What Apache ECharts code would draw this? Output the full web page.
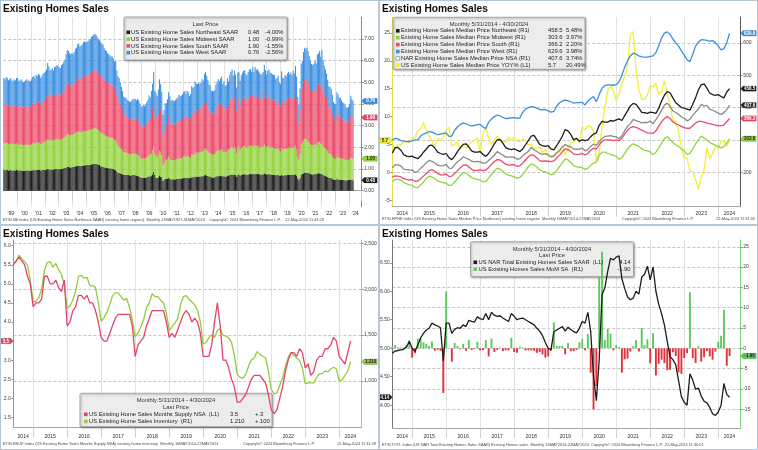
<!DOCTYPE html>
<html><head><meta charset="utf-8">
<script src="https://cdn.jsdelivr.net/npm/echarts@6.0.0/dist/echarts.min.js"></script>
<style>
html,body{margin:0;padding:0;background:#fff;}
#wrap{position:relative;width:758px;height:450px;overflow:hidden;background:#fff;}
.c{position:absolute;width:379px;height:225px;}
.b{position:absolute;width:379px;height:225px;box-sizing:border-box;border:1px solid #b4c6d8;pointer-events:none;}
</style></head><body><div id="wrap">
<div id="c1" class="c" style="left:0;top:0"></div>
<div id="c2" class="c" style="left:379px;top:0"></div>
<div id="c3" class="c" style="left:0;top:225px"></div>
<div id="c4" class="c" style="left:379px;top:225px"></div>
<div class="b" style="left:0;top:0"></div>
<div class="b" style="left:379px;top:0"></div>
<div class="b" style="left:0;top:225px"></div>
<div class="b" style="left:379px;top:225px"></div>
</div>
<script>
// ---------------- DATA ----------------
// Panel 1: regional existing home sales SAAR (millions), monthly Jan 1999 - Apr 2024
const P1_START_YEAR = 1999;
const P1_PAD_MONTHS = 7; // empty months after the last bar (right margin of the plot)
const NE1 = [
.95,.94,.96,.95,.93,.94,.95,.93,.92,.94,.93,.95,
.94,.92,.93,.94,.92,.91,.92,.93,.94,.92,.93,.92,
.93,.94,.95,.93,.95,.95,.96,.95,.93,.95,.96,.96,
.97,.98,1.0,.99,.97,.98,.99,.98,.99,1.0,1.0,.99,
1.0,.99,1.01,1.02,1.04,1.05,1.07,1.1,1.09,1.08,1.07,1.08,
1.1,1.11,1.13,1.13,1.15,1.15,1.14,1.14,1.15,1.16,1.17,1.17,
1.18,1.19,1.2,1.2,1.22,1.22,1.23,1.24,1.23,1.22,1.2,1.18,
1.12,1.12,1.1,1.08,1.07,1.06,1.05,1.04,1.03,1.02,1.02,1.0,
.95,.95,.88,.84,.82,.8,.78,.76,.74,.73,.73,.72,
.72,.71,.7,.71,.72,.72,.71,.7,.69,.67,.63,.6,
.58,.6,.59,.6,.62,.64,.67,.66,.7,.76,.86,.72,
.6,.58,.62,.7,.66,.62,.46,.5,.54,.54,.56,.6,
.55,.53,.53,.53,.52,.53,.54,.55,.56,.55,.56,.57,
.59,.6,.58,.6,.59,.57,.58,.62,.62,.62,.66,.64,
.65,.66,.65,.66,.68,.67,.71,.72,.7,.68,.65,.65,
.62,.61,.61,.62,.65,.67,.69,.67,.69,.7,.66,.67,
.65,.66,.7,.68,.72,.74,.75,.72,.75,.72,.64,.74,
.76,.7,.73,.75,.76,.77,.74,.74,.75,.77,.77,.76,
.78,.76,.78,.77,.78,.77,.76,.75,.75,.76,.8,.77,
.75,.76,.77,.75,.75,.74,.73,.73,.71,.72,.73,.7,
.68,.72,.7,.7,.72,.71,.72,.73,.72,.73,.72,.74,
.72,.76,.7,.57,.5,.58,.75,.78,.8,.84,.83,.84,
.82,.8,.78,.76,.75,.76,.78,.76,.8,.8,.81,.77,
.78,.72,.7,.68,.66,.63,.6,.59,.58,.55,.52,.52,
.5,.54,.53,.51,.51,.5,.49,.49,.48,.47,.48,.49,
.5,.5,.5,.48];
const MW1 = [
1.24,1.23,1.25,1.24,1.22,1.23,1.24,1.22,1.21,1.23,1.22,1.24,
1.22,1.19,1.2,1.21,1.19,1.18,1.19,1.2,1.21,1.19,1.2,1.19,
1.22,1.24,1.25,1.23,1.26,1.25,1.27,1.26,1.23,1.25,1.27,1.28,
1.32,1.34,1.38,1.36,1.33,1.34,1.35,1.33,1.36,1.37,1.38,1.37,
1.36,1.35,1.38,1.39,1.41,1.43,1.47,1.52,1.51,1.49,1.48,1.49,
1.5,1.52,1.55,1.55,1.57,1.58,1.56,1.56,1.57,1.58,1.58,1.58,
1.58,1.59,1.6,1.6,1.62,1.63,1.64,1.65,1.64,1.62,1.6,1.58,
1.55,1.54,1.53,1.5,1.48,1.47,1.45,1.44,1.43,1.42,1.42,1.4,
1.38,1.4,1.3,1.24,1.22,1.18,1.14,1.1,1.04,1.03,1.03,1.01,
1.0,.99,.98,1.0,1.0,1.0,.99,.98,.97,.95,.92,.9,
.88,.9,.89,.9,.93,.96,1.0,.98,1.04,1.1,1.18,1.0,
1.0,.97,1.04,1.15,1.1,1.0,.72,.78,.86,.86,.9,.98,
.93,.89,.89,.89,.88,.9,.91,.92,.95,.93,.94,.95,
1.0,1.01,.98,1.02,1.0,.96,.98,1.06,1.04,1.05,1.11,1.09,
1.1,1.12,1.1,1.11,1.15,1.14,1.21,1.23,1.19,1.15,1.1,1.09,
1.06,1.06,1.05,1.07,1.12,1.16,1.18,1.16,1.19,1.21,1.13,1.16,
1.12,1.13,1.2,1.17,1.24,1.27,1.29,1.23,1.28,1.24,1.1,1.26,
1.28,1.18,1.24,1.27,1.29,1.3,1.26,1.24,1.28,1.31,1.31,1.28,
1.32,1.27,1.32,1.29,1.3,1.28,1.26,1.24,1.25,1.27,1.35,1.29,
1.24,1.28,1.29,1.26,1.25,1.24,1.23,1.23,1.19,1.2,1.23,1.15,
1.12,1.26,1.2,1.2,1.23,1.22,1.25,1.26,1.24,1.25,1.23,1.27,
1.26,1.33,1.22,1.0,.93,1.12,1.4,1.45,1.52,1.56,1.53,1.55,
1.45,1.42,1.37,1.34,1.33,1.34,1.38,1.35,1.42,1.43,1.45,1.39,
1.45,1.35,1.3,1.27,1.24,1.18,1.12,1.12,1.1,1.05,.99,.98,
.95,1.05,1.03,1.0,1.0,.98,.98,.97,.95,.93,.93,.94,
.96,1.03,1.01,1.0];
const SO1 = [
1.78,1.76,1.8,1.78,1.75,1.76,1.78,1.75,1.73,1.76,1.75,1.78,
1.8,1.76,1.77,1.79,1.76,1.75,1.76,1.78,1.79,1.76,1.78,1.76,
1.8,1.83,1.85,1.82,1.87,1.85,1.88,1.87,1.82,1.85,1.88,1.9,
2.0,2.03,2.12,2.08,2.02,2.04,2.05,2.02,2.07,2.08,2.1,2.08,
2.08,2.06,2.12,2.14,2.17,2.21,2.3,2.37,2.35,2.31,2.29,2.31,
2.3,2.33,2.38,2.41,2.47,2.49,2.44,2.46,2.48,2.52,2.54,2.51,
2.52,2.54,2.56,2.6,2.64,2.66,2.68,2.7,2.69,2.66,2.63,2.62,
2.64,2.63,2.62,2.58,2.55,2.54,2.5,2.49,2.48,2.46,2.46,2.42,
2.4,2.42,2.26,2.15,2.12,2.04,1.95,1.87,1.75,1.73,1.72,1.68,
1.62,1.6,1.58,1.6,1.62,1.62,1.6,1.58,1.6,1.58,1.52,1.48,
1.5,1.52,1.5,1.53,1.57,1.62,1.7,1.67,1.8,1.95,2.15,1.8,
1.78,1.73,1.86,2.05,1.96,1.82,1.4,1.48,1.6,1.6,1.68,1.82,
1.74,1.67,1.66,1.67,1.65,1.68,1.7,1.72,1.77,1.74,1.76,1.78,
1.82,1.83,1.79,1.84,1.81,1.74,1.78,1.92,1.89,1.91,2.01,1.97,
1.97,1.99,1.97,1.99,2.06,2.03,2.15,2.19,2.11,2.04,1.96,1.95,
1.9,1.89,1.89,1.91,2.01,2.07,2.12,2.08,2.13,2.16,2.03,2.07,
1.98,2.0,2.13,2.07,2.2,2.25,2.29,2.18,2.28,2.2,1.95,2.24,
2.23,2.08,2.18,2.22,2.25,2.27,2.2,2.18,2.23,2.28,2.29,2.24,
2.33,2.25,2.35,2.29,2.31,2.27,2.24,2.2,2.22,2.25,2.38,2.29,
2.2,2.26,2.29,2.24,2.23,2.22,2.21,2.2,2.14,2.17,2.2,2.08,
2.1,2.33,2.2,2.2,2.25,2.22,2.28,2.3,2.27,2.3,2.26,2.33,
2.3,2.44,2.25,1.87,1.68,2.0,2.5,2.55,2.68,2.75,2.74,2.76,
2.75,2.65,2.56,2.5,2.48,2.5,2.55,2.5,2.68,2.7,2.75,2.64,
2.78,2.6,2.5,2.45,2.38,2.26,2.14,2.13,2.1,1.98,1.84,1.82,
1.8,2.0,1.97,1.9,1.9,1.86,1.83,1.83,1.8,1.76,1.74,1.77,
1.8,1.93,1.93,1.9];
const WE1 = [
1.23,1.22,1.24,1.23,1.2,1.22,1.23,1.2,1.19,1.22,1.2,1.23,
1.24,1.18,1.2,1.21,1.18,1.16,1.18,1.19,1.21,1.18,1.19,1.18,
1.2,1.24,1.25,1.22,1.27,1.25,1.29,1.27,1.22,1.25,1.29,1.31,
1.21,1.25,1.4,1.32,1.23,1.24,1.26,1.22,1.28,1.3,1.32,1.31,
1.26,1.25,1.29,1.3,1.33,1.36,1.46,1.51,1.5,1.47,1.46,1.47,
1.4,1.44,1.49,1.51,1.56,1.58,1.51,1.54,1.55,1.59,1.61,1.59,
1.57,1.58,1.59,1.6,1.62,1.64,1.65,1.66,1.64,1.6,1.57,1.57,
1.54,1.51,1.5,1.44,1.4,1.38,1.35,1.33,1.31,1.3,1.3,1.28,
1.22,1.23,1.11,1.07,1.04,.98,.93,.87,.82,.81,.82,.79,
.8,.82,.84,.86,.88,.9,.92,.92,.98,.98,.95,.92,
.92,.94,.93,.94,.96,.98,1.03,1.0,1.06,1.13,1.3,1.08,
1.12,1.1,1.15,1.25,1.2,1.12,.92,.96,1.04,1.04,1.08,1.14,
1.14,1.09,1.08,1.09,1.08,1.09,1.1,1.12,1.15,1.14,1.14,1.15,
1.16,1.16,1.13,1.16,1.15,1.1,1.13,1.22,1.2,1.21,1.26,1.24,
1.2,1.21,1.2,1.21,1.25,1.24,1.32,1.34,1.29,1.25,1.19,1.18,
1.04,1.04,1.04,1.05,1.11,1.13,1.16,1.14,1.16,1.19,1.11,1.14,
1.07,1.09,1.16,1.12,1.19,1.23,1.26,1.18,1.24,1.2,1.07,1.22,
1.2,1.12,1.18,1.21,1.23,1.23,1.19,1.17,1.21,1.24,1.24,1.21,
1.26,1.2,1.26,1.22,1.23,1.2,1.18,1.16,1.17,1.2,1.28,1.22,
1.19,1.24,1.25,1.21,1.2,1.18,1.17,1.18,1.11,1.13,1.16,1.06,
1.04,1.2,1.11,1.09,1.14,1.12,1.17,1.2,1.15,1.18,1.14,1.2,
1.14,1.23,1.1,.89,.85,1.02,1.21,1.22,1.4,1.45,1.45,1.45,
1.43,1.35,1.3,1.25,1.24,1.26,1.28,1.27,1.39,1.41,1.45,1.38,
1.48,1.35,1.27,1.21,1.13,1.05,.95,.96,.93,.85,.74,.7,
.75,.96,.91,.87,.89,.82,.77,.75,.73,.69,.67,.68,
.74,.92,.78,.76];
const P1_Y_TICKS = [0,1,2,3,4,5,6,7];

// Panels 2-4: monthly, May 2014 - Apr 2024
const P_START_YEAR = 2014, P_START_MONTH = 5;
// Panel 2: median prices ($K, R1) and YoY % (L1)
const NE2 = [259,276,277,268,255,250,248,250,
245,242,250,262,272,282,284,275,262,258,255,258,
245,239,250,264,276,286,288,278,266,262,262,264,
255,249,258,272,288,300,302,290,276,272,270,272,
268,264,272,285,298,312,314,300,286,282,280,282,
272,269,282,296,312,332,328,316,300,305,296,300,
298,300,310,318,322,345,357,355,355,360,358,362,
365,360,375,390,405,413,410,398,385,384,382,386,
384,382,398,420,438,449,445,430,415,408,400,398,
395,392,410,430,455,470,473,460,445,440,438,440,
434,430,448,458.5];
const MW2 = [171,178,178,175,168,165,161,160,
153,152,161,170,181,188,186,180,173,170,168,166,
159,160,170,180,191,199,197,191,183,180,178,176,
170,172,182,193,204,213,210,203,195,191,189,186,
182,184,193,205,217,226,223,216,207,203,201,197,
192,195,205,217,230,241,238,230,220,217,216,214,
209,212,222,228,232,252,262,262,258,255,252,250,
240,245,258,272,282,288,284,280,272,268,266,263,
255,262,275,290,304,310,302,292,285,280,272,266,
255,258,272,288,300,312,306,300,292,288,284,280,
275,280,290,303.6];
const SO2 = [185,189,188,186,180,178,176,177,
172,173,180,188,196,205,208,203,196,192,192,195,
187,188,196,205,214,222,223,216,209,205,206,207,
205,207,215,225,233,239,238,232,225,222,223,224,
218,220,228,238,248,254,252,244,236,234,235,234,
233,235,244,253,264,272,270,264,256,255,256,258,
254,258,268,274,272,285,295,300,300,300,298,300,
298,305,318,330,338,341,339,335,330,326,322,321,
320,328,342,356,366,372,366,356,350,346,342,338,
336,336,344,352,357,357,355,352,350,348,346,344,
344,346,356,366.2];
const WE2 = [300,305,303,298,296,295,295,297,
300,300,312,318,322,326,324,320,316,318,320,322,
311,312,330,340,348,352,350,346,343,345,347,348,
340,335,355,365,372,377,374,370,366,367,368,369,
367,368,385,395,400,403,402,398,394,393,394,390,
386,388,405,415,420,424,421,418,414,415,415,416,
408,420,428,434,418,440,460,468,470,470,469,471,
480,500,525,545,560,568,565,560,557,556,556,558,
560,570,590,615,630,634,626,612,600,590,575,562,
548,542,565,590,603,610,609,608,605,607,600,590,
578,582,600,629.6];
const NSA2 = [213.4,223.3,222.9,219.8,209.7,208.3,206.3,207.0,
199.6,202.6,212.1,220.4,229.4,236.4,234.0,228.7,221.9,219.6,220.3,224.1,
212.8,212.1,222.8,232.5,238.9,247.6,244.1,240.0,234.2,232.2,233.9,232.2,
227.8,229.1,236.3,244.2,252.5,263.8,258.3,253.5,246.8,246.8,247.5,246.8,
240.5,241.7,250.4,257.9,264.8,276.9,269.6,264.2,258.1,255.4,257.7,253.6,
247.5,249.5,259.4,267.3,277.7,285.7,280.8,278.2,272.1,271.1,271.3,274.5,
266.3,270.1,280.6,286.8,283.5,295.3,304.1,310.6,311.8,313.0,310.8,309.8,
303.9,313.0,329.1,341.6,350.3,363.3,359.9,356.7,352.8,353.9,353.9,358.0,
350.3,363.0,375.3,391.2,407.6,413.8,403.8,389.5,384.8,379.1,370.7,366.9,
359.0,363.7,375.7,386.1,395.5,410.0,405.4,406.7,394.3,391.8,387.6,382.6,
379.1,384.5,393.5,407.6];
const YOY2 = [5.1,4.3,4.9,4.8,5.6,5.5,5.3,6.0,
6.2,7.5,7.8,8.9,7.5,6.5,5.6,4.7,6.1,5.7,6.3,7.6,
8.1,4.7,5.0,5.5,4.1,4.7,4.3,4.9,5.5,5.7,6.2,3.6,
7.0,8.0,6.1,5.0,5.7,6.5,5.8,5.6,5.4,6.3,5.8,6.3,
5.6,5.5,6.0,5.6,4.9,5.0,4.4,4.2,4.6,3.5,4.1,2.8,
2.9,3.2,3.6,3.6,4.9,3.2,4.2,5.3,5.4,6.1,5.3,8.2,
7.6,8.3,8.2,7.3,2.1,3.4,8.3,11.6,14.6,15.5,14.6,12.9,
14.1,15.9,17.3,19.1,24.8,25.2,18.3,14.8,13.1,13.1,13.9,15.6,
15.3,16.0,14.0,14.5,16.4,13.9,12.2,9.2,9.1,7.1,4.7,2.5,
2.5,0.2,0.1,-1.3,-3.0,-0.9,0.4,4.4,2.5,3.4,4.6,4.3,
5.6,5.7,4.7,5.7];
// Panel 3: months supply (L1) and inventory in thousands (R1)
const MS3 = [5.5,5.6,5.7,5.6,5.5,5.2,5.0,4.4,
4.5,4.5,4.6,5.2,5.2,5.0,5.0,5.1,4.9,4.8,5.1,3.9,
4.0,4.3,4.4,4.7,4.7,4.6,4.7,4.5,4.5,4.3,4.0,3.6,
3.5,3.5,3.7,3.9,4.1,4.2,4.2,4.2,4.2,4.2,3.9,3.1,
3.4,3.5,3.6,3.9,4.1,4.3,4.3,4.3,4.3,4.3,4.0,3.6,
3.7,3.6,3.8,4.0,4.2,4.3,4.2,4.0,4.1,4.0,3.7,3.1,
3.1,3.1,3.4,4.0,4.5,3.9,3.0,3.0,2.8,2.5,2.3,1.9,
1.9,2.0,2.1,2.3,2.5,2.6,2.6,2.6,2.5,2.4,2.1,1.7,
1.6,1.7,2.0,2.3,2.7,3.0,3.2,3.2,3.1,3.3,3.2,2.8,
2.9,2.6,2.7,3.0,3.1,3.1,3.3,3.3,3.4,3.6,3.5,3.1,
3.0,2.9,3.2,3.5];
const INV3 = [2280,2300,2370,2330,2300,2260,2090,1860,
1870,1910,2000,2210,2290,2300,2240,2280,2210,2160,2050,1790,
1820,1880,1980,2140,2150,2120,2130,2040,2040,2020,1850,1650,
1690,1750,1830,1930,1960,1960,1920,1880,1900,1800,1670,1480,
1520,1590,1670,1800,1850,1950,1920,1920,1880,1850,1740,1550,
1590,1630,1680,1830,1920,1930,1890,1860,1830,1770,1640,1400,
1420,1470,1500,1470,1550,1570,1500,1490,1470,1420,1280,1070,
1040,1030,1070,1160,1230,1250,1320,1290,1270,1250,1110,910,
860,870,950,1030,1160,1260,1310,1280,1250,1220,1140,970,
980,980,980,1040,1080,1080,1110,1100,1130,1150,1130,1000,
1010,1060,1110,1210];
// Panel 4: total sales SAAR (L1, millions) and MoM % (R1)
const TOT4 = [4.91,4.95,4.96,4.97,4.98,5.02,5.12,5.0,
4.94,5.06,5.18,5.26,5.32,5.35,5.44,5.41,5.39,5.36,4.77,5.44,
5.44,5.26,5.33,5.36,5.35,5.41,5.38,5.49,5.47,5.46,5.55,5.52,
5.5,5.61,5.5,5.63,5.58,5.56,5.57,5.53,5.5,5.47,5.61,5.56,
5.5,5.52,5.53,5.5,5.47,5.44,5.41,5.35,5.3,5.22,5.1,5.0,
4.97,5.29,5.32,5.35,5.38,5.3,5.37,5.33,5.29,5.27,5.35,5.47,
5.44,5.63,5.29,4.5,4.08,4.8,5.94,6.06,6.35,6.58,6.55,6.6,
6.62,6.22,6.05,5.9,5.85,5.88,6.0,5.95,6.25,6.3,6.44,6.2,
6.43,6.0,5.77,5.61,5.41,5.12,4.85,4.8,4.71,4.43,4.15,4.05,
4.0,4.55,4.44,4.28,4.3,4.16,4.07,4.04,3.96,3.85,3.82,3.88,
4.0,4.38,4.19,4.14];
const MOM4 = [0.4,0.8,0.2,0.2,0.2,0.8,2.0,-2.3,
-1.2,2.4,2.4,1.5,1.1,0.6,1.7,-0.6,-0.4,-0.6,-11.0,14.0,
0.0,-3.3,1.3,0.6,-0.2,1.1,-0.6,2.0,-0.4,-0.2,1.6,-0.5,
-0.4,2.0,-2.0,2.4,-0.9,-0.4,0.2,-0.7,-0.5,-0.5,2.6,-0.9,
-1.1,0.4,0.2,-0.5,-0.5,-0.5,-0.6,-1.1,-0.9,-1.5,-2.3,-2.0,
-0.6,6.4,0.6,0.6,0.6,-1.5,1.3,-0.7,-0.7,-0.4,1.5,2.2,
-0.5,3.5,-6.0,-15.0,-9.3,17.6,23.8,2.0,4.8,3.6,-0.5,0.8,
0.3,-6.0,-2.7,-2.5,-0.8,0.5,2.0,-0.8,5.0,0.8,2.2,-3.7,
3.7,-6.7,-3.8,-2.8,-3.6,-5.4,-5.3,-1.0,-1.9,-5.9,-6.3,-2.4,
-1.2,13.8,-2.4,-3.6,0.5,-3.3,-2.2,-0.7,-2.0,-2.8,-0.8,1.6,
3.1,9.5,-4.3,-1.9];

// ---------------- STYLE / HELPERS ----------------
const FONT = '"Liberation Sans", Arial, sans-serif';
const COL = {black:'#1d1d1d', green:'#93d33c', red:'#ec4a69', blue:'#3b8fe2', grey:'#8a8a8a', yellow:'#f2ee3a',
  barG:'#5cc85c', barR:'#e3303a', line3r:'#e44566', line3g:'#92cc3e'};
const W = 379, H = 225;

function mk(id){ return echarts.init(document.getElementById(id), null, {renderer:'canvas', width:W, height:H}); }
function xsMonthly(n, y0, m0, off){ const a=[]; for(let i=0;i<n;i++) a.push(y0 + (m0 + i + off)/12); return a; }
function pairs(xs, ys){ return ys.map((v,i)=>[xs[i], v]); }

function yearAxis(min, max, fmt, margin){
  const ticks=[], labels=[];
  for(let y=Math.ceil(min+1e-6); y<max; y++) ticks.push(y);
  for(let y=Math.floor(min); y<max; y++){ const lo=Math.max(y,min), hi=Math.min(y+1,max); labels.push((lo+hi)/2); }
  return {type:'value', min, max,
    axisLine:{show:true, onZero:false, lineStyle:{color:'#a8a8a8', width:1}},
    axisTick:{show:true, customValues:ticks, length:10, lineStyle:{color:'#d0d0d0', width:1}},
    axisLabel:{customValues:labels, formatter:fmt, fontSize:5.2, color:'#333', margin:margin, fontFamily:FONT},
    splitLine:{show:true, lineStyle:{color:'#e2e2e2', width:1}}};
}
function vAxis(o){
  return {type:'value', position:o.pos, min:o.min, max:o.max,
    axisLine:{show:true, onZero:false, lineStyle:{color:o.line||'#8c8c8c', width:1}},
    axisTick:{show:true, customValues:o.vals, length:2, lineStyle:{color:'#8c8c8c'}},
    axisLabel:{customValues:o.vals, formatter:o.fmt, fontSize:5, color:'#3a3a3a', margin:2.5, fontFamily:FONT},
    splitLine:{show:!!o.split, lineStyle:{color:'#b5b5b5', type:[3,2], width:0.8}}};
}
function txt(x,y,s,o){ o=o||{};
  return {type:'text', x:x, y:y, z:o.z||5, silent:true, style:{text:s, fill:o.color||'#1e1e1e',
    font:(o.weight||'normal')+' '+(o.size||5.8)+'px '+FONT, align:o.align||'left', verticalAlign:o.va||'middle',
    textAlign:o.align||'left', textVerticalAlign:o.va||'middle'}};
}
function box(x,y,w,h){
  return {type:'rect', z:1, silent:true, shape:{x:x,y:y,width:w,height:h,r:1},
    style:{fill:'#ececec', stroke:'#9b9b9b', lineWidth:0.8, shadowBlur:2, shadowColor:'rgba(0,0,0,0.35)', shadowOffsetX:1, shadowOffsetY:1}};
}
function sq(x,y,c,hollow){
  return {type:'rect', z:2, silent:true, shape:{x:x, y:y-1.8, width:3.6, height:3.6},
    style:{fill:hollow?'#ffffff':c, stroke:hollow?'#777':null, lineWidth:0.6}};
}
function tag(side, x0, y, s, bg, fg){
  const w = side==='right'?15.5:12.3, h=5.4, p=2.4;
  const d = side==='right'?1:-1;
  const pts=[[x0,y],[x0+d*p,y-h/2],[x0+d*w,y-h/2],[x0+d*w,y+h/2],[x0+d*p,y+h/2]];
  return [{type:'polygon', z:10, silent:true, shape:{points:pts}, style:{fill:bg, stroke:'rgba(0,0,0,0.3)', lineWidth:0.5}},
    txt(x0+d*(p+w)/2, y+0.2, s, {size:4.5, color:fg, align:'center', weight:'bold', z:11})];
}
function title(){ return txt(3, 9, 'Existing Homes Sales', {size:10.2, weight:'bold', color:'#0d0d0d'}); }
function footer(y, parts){ return parts.map(p=>txt(p[0], y, p[1], {size:3.9, color:'#4a4a4a', align:p[2]||'left'})); }

// ---------------- PANEL 1 ----------------
(function(){
  const ch = mk('c1');
  const gl=3.3, gr=17.3, gt=17, gb=18.3;
  const nCat = NE1.length + P1_PAD_MONTHS;
  const cats=[]; for(let i=0;i<nCat;i++){ const y=P1_START_YEAR+Math.floor(i/12), m=i%12+1; cats.push(y+'-'+(m<10?'0':'')+m); }
  const lastFull = Math.floor(NE1.length/12)*12;          // first month of the partial last year
  const lastLab = lastFull + Math.floor((nCat-lastFull)/2);
  const yearStart = i => i>0 && i%12===0;
  const bar = (d,c,n)=>({type:'bar', name:n, stack:'all', data:d, barWidth:1.05, itemStyle:{color:c}, z:2});
  ch.setOption({animation:false, textStyle:{fontFamily:FONT},
    grid:{left:gl, right:gr, top:gt, bottom:gb, containLabel:false, outerBoundsMode:'none'},
    xAxis:{type:'category', data:cats, boundaryGap:true,
      axisLine:{show:true, lineStyle:{color:'#a8a8a8', width:1}},
      axisTick:{show:true, interval:yearStart, alignWithLabel:false, length:10, lineStyle:{color:'#d0d0d0', width:1}},
      axisLabel:{interval:i=>(i<lastFull && i%12===6) || i===lastLab, formatter:v=>"'"+v.slice(2,4), fontSize:5.2, color:'#333', margin:4, fontFamily:FONT},
      splitLine:{show:true, interval:yearStart, lineStyle:{color:'#e2e2e2', width:1}}},
    yAxis: vAxis({pos:'right', min:-0.74, max:8.02, vals:P1_Y_TICKS, fmt:v=>v.toFixed(2), split:true, line:'#8a8a8a'}),
    series:[bar(NE1,COL.black,'NE'), bar(MW1,COL.green,'MW'), bar(SO1,COL.red,'S'), bar(WE1,COL.blue,'W')]
  });
  const n = NE1.length-1;
  const s1=NE1[n], s2=s1+MW1[n], s3=s2+SO1[n], s4=s3+WE1[n];
  const py = v=>ch.convertToPixel({yAxisIndex:0}, v);
  const xr = W-gr;
  const L=124, T=17;
  const els=[title(), box(L,T,163,43), txt(L+81.5,T+7.6,'Last Price',{size:5.8,align:'center',color:'#333'})];
  const rows=[[COL.black,'US Existing Home Sales Northeast SAAR','0.48','-4.00%'],[COL.green,'US Existing Home Sales Midwest SAAR','1.00','-0.99%'],
    [COL.red,'US Existing Home Sales South SAAR','1.90','-1.55%'],[COL.blue,'US Existing Home Sales West SAAR','0.76','-2.56%']];
  rows.forEach((r,k)=>{const yy=T+15.3+k*6.8; els.push(sq(L+2.5,yy,r[0])); els.push(txt(L+7,yy,r[1])); els.push(txt(L+124,yy,r[2])); els.push(txt(L+141,yy,r[3]));});
  els.push(...tag('right',xr,py(s4),WE1[n].toFixed(2),COL.blue,'#fff'));
  els.push(...tag('right',xr,py(s3),SO1[n].toFixed(2),COL.red,'#fff'));
  els.push(...tag('right',xr,py(s2),MW1[n].toFixed(2),COL.green,'#222'));
  els.push(...tag('right',xr,py(s1),NE1[n].toFixed(2),COL.black,'#fff'));
  els.push(...footer(219.5,[[3,'ETSLNE Index (US Existing Home Sales Northeast SAAR) existing home regions]  Monthly 21MAY1927-31MAY2024    Copyright© 2024 Bloomberg Finance L.P.    22-May-2024 11:43:29']]));
  ch.setOption({graphic:{elements:els}});
})();

// ---------------- PANEL 2 ----------------
const XMIN = P_START_YEAR + P_START_MONTH/12, XMAX = 2024.66;
(function(){
  const ch = mk('c2');
  const gl=13.3, gr=17.3, gt=17, gb=18.3;
  const x = xsMonthly(NE2.length, P_START_YEAR, P_START_MONTH, 0);
  const ln = (d,c,ax,z,w)=>({type:'line', data:pairs(x,d), yAxisIndex:ax, showSymbol:false, symbol:'none', z:z||3,
    lineStyle:{color:c, width:w||1.3}, itemStyle:{color:c}});
  ch.setOption({animation:false, textStyle:{fontFamily:FONT},
    grid:{left:gl, right:gr, top:gt, bottom:gb, containLabel:false, outerBoundsMode:'none'},
    xAxis: yearAxis(XMIN, XMAX, v=>String(Math.floor(v)), 4),
    yAxis:[vAxis({pos:'left', min:-6.18, max:27.87, vals:[-5,0,5,10,15,20,25], fmt:v=>String(v), line:'#e8e24a'}),
      vAxis({pos:'right', min:93.5, max:680, vals:[200,300,400,500,600], fmt:v=>String(v), split:true, line:'#555'})],
    series:[ln(YOY2,COL.yellow,0,2,1.3), ln(MW2,COL.green,1), ln(SO2,COL.red,1), ln(NSA2,COL.grey,1), ln(NE2,COL.black,1), ln(WE2,COL.blue,1)]
  });
  const n = NE2.length-1;
  const py1 = v=>ch.convertToPixel({yAxisIndex:1}, v), py0 = v=>ch.convertToPixel({yAxisIndex:0}, v);
  const xr = W-gr;
  const L=14, T=17.3, BW=192;
  const els=[title(), box(L,T,BW,52), txt(L+BW/2,T+6.6,'Monthly 5/31/2014 - 4/30/2024',{size:5.8,align:'center',color:'#333'})];
  const rows=[[COL.black,'Existing Home Sales Median Price Northeast (R1)','458.5','5.48%'],
    [COL.green,'Existing Home Sales Median Price Midwest (R1)','303.6','3.97%'],
    [COL.red,'Existing Home Sales Median Price South (R1)','366.2','2.20%'],
    [COL.blue,'Existing Home Sales Median Price West (R1)','629.6','3.98%'],
    [COL.grey,'NAR Existing Home Sales Median Price NSA (R1)','407.6','3.74%',true],
    [COL.yellow,'US Existing Home Sales Median Price YOY% (L1)','5.7','20.49%']];
  rows.forEach((r,k)=>{const yy=T+13.5+k*6.9; els.push(sq(L+3,yy,r[0],r[4])); els.push(txt(L+8,yy,r[1])); els.push(txt(L+155,yy,r[2])); els.push(txt(L+173,yy,r[3]));});
  els.push(...tag('right',xr,py1(WE2[n]),String(WE2[n]),COL.blue,'#fff'));
  els.push(...tag('right',xr,py1(NE2[n]),String(NE2[n]),COL.black,'#fff'));
  els.push(...tag('right',xr,py1(NSA2[n]),String(NSA2[n]),'#262626','#fff'));
  els.push(...tag('right',xr,py1(SO2[n]),String(SO2[n]),COL.red,'#fff'));
  els.push(...tag('right',xr,py1(MW2[n]),String(MW2[n]),COL.green,'#222'));
  els.push(...tag('left',gl,py0(YOY2[n]),String(YOY2[n]),COL.yellow,'#222'));
  els.push(...footer(219.3,[[3,'ETSLHPNE Index (US Existing Home Sales Median Price Northeast) existing home regions  Monthly 16MAY2014-21MAY2024'],[243,'Copyright© 2024 Bloomberg Finance L.P.'],[376,'22-May-2024 11:31:05','right']]));
  ch.setOption({graphic:{elements:els}});
})();

// ---------------- PANEL 3 ----------------
(function(){
  const ch = mk('c3');
  const gl=13.3, gr=17.3, gt=15, gb=22.3;
  const x = xsMonthly(MS3.length, P_START_YEAR, P_START_MONTH, 0);
  ch.setOption({animation:false, textStyle:{fontFamily:FONT},
    grid:{left:gl, right:gr, top:gt, bottom:gb, containLabel:false, outerBoundsMode:'none'},
    xAxis: yearAxis(XMIN, XMAX, v=>String(Math.floor(v)), 6.2),
    yAxis:[vAxis({pos:'left', min:1.23, max:6.15, vals:[1.5,2,2.5,3,3.5,4,4.5,5,5.5,6], fmt:v=>v.toFixed(1), line:'#e6708a'}),
      vAxis({pos:'right', min:491, max:2536, vals:[1000,1500,2000,2500], fmt:v=>v.toLocaleString('en-US'), split:true, line:'#a6d65a'})],
    series:[
      {type:'line', data:pairs(x,INV3), yAxisIndex:1, showSymbol:false, symbol:'none', z:3, lineStyle:{color:COL.line3g, width:1.3}},
      {type:'line', data:pairs(x,MS3), yAxisIndex:0, showSymbol:false, symbol:'none', z:4, lineStyle:{color:COL.line3r, width:1.3}}]
  });
  const n = MS3.length-1;
  const py1 = v=>ch.convertToPixel({yAxisIndex:1}, v), py0 = v=>ch.convertToPixel({yAxisIndex:0}, v);
  const L=80, T=168.3, BW=192;
  const els=[title(), box(L,T,BW,33.4), txt(L+BW/2,T+7,'Monthly 5/31/2014 - 4/30/2024',{size:5.8,align:'center',color:'#333'}),
    txt(L+BW/2,T+14,'Last Price',{size:5.8,align:'center',color:'#333'})];
  const rows=[[COL.line3r,'US Existing Home Sales Months Supply NSA  (L1)','3.5','+.3'],[COL.line3g,'US Existing Home Sales Inventory  (R1)','1.210','+.100']];
  rows.forEach((r,k)=>{const yy=T+21+k*7.2; els.push(sq(L+4,yy,r[0])); els.push(txt(L+9,yy,r[1])); els.push(txt(L+150,yy,r[2])); els.push(txt(L+175,yy,r[3]));});
  els.push(...tag('left',gl,py0(MS3[n]),MS3[n].toFixed(1),COL.line3r,'#fff'));
  els.push(...tag('right',W-gr,py1(INV3[n]),(INV3[n]/1000).toFixed(3),COL.line3g,'#222'));
  els.push(...footer(218.5,[[3,'ETSLHSUP Index (US Existing Home Sales Months Supply NSA) existing home inventory  Monthly 16MAY2014-22MAY2024'],[243,'Copyright© 2024 Bloomberg Finance L.P.'],[376,'22-May-2024 11:31:29','right']]));
  ch.setOption({graphic:{elements:els}});
})();

// ---------------- PANEL 4 ----------------
(function(){
  const ch = mk('c4');
  const gl=13.3, gr=17.3, gt=15, gb=21.7;
  const x = xsMonthly(TOT4.length, P_START_YEAR, P_START_MONTH, 0);
  ch.setOption({animation:false, textStyle:{fontFamily:FONT},
    grid:{left:gl, right:gr, top:gt, bottom:gb, containLabel:false, outerBoundsMode:'none'},
    xAxis: yearAxis(XMIN, XMAX, v=>String(Math.floor(v)), 6.2),
    yAxis:[vAxis({pos:'left', min:3.594, max:6.90, vals:[4,4.5,5,5.5,6,6.5], fmt:v=>v.toFixed(2), line:'#777'}),
      vAxis({pos:'right', min:-19.7, max:26.67, vals:[-15,-10,-5,0,5,10,15,20,25], fmt:v=>String(v), split:true, line:'#7fd27f'})],
    series:[
      {type:'bar', yAxisIndex:1, barWidth:1.9, z:2, data:MOM4.map((v,i)=>({value:[x[i],v], itemStyle:{color:v>=0?COL.barG:COL.barR}}))},
      {type:'line', data:pairs(x,TOT4), yAxisIndex:0, showSymbol:false, symbol:'none', z:4, lineStyle:{color:COL.black, width:1.3}}]
  });
  const n = TOT4.length-1;
  const py1 = v=>ch.convertToPixel({yAxisIndex:1}, v), py0 = v=>ch.convertToPixel({yAxisIndex:0}, v);
  const L=91.5, T=16.7, BW=163;
  const els=[title(), box(L,T,BW,35), txt(L+BW/2,T+7.2,'Monthly 5/31/2014 - 4/30/2024',{size:5.8,align:'center',color:'#333'}),
    txt(L+BW/2,T+13.8,'Last Price',{size:5.8,align:'center',color:'#333'})];
  const rows=[[COL.black,'US NAR Total Existing Homes Sales SAAR  (L1)','4.14'],[COL.barG,'US Existing Homes Sales MoM SA  (R1)','-1.90']];
  rows.forEach((r,k)=>{const yy=T+20.6+k*6.8; els.push(sq(L+3,yy,r[0])); els.push(txt(L+8,yy,r[1])); els.push(txt(L+160,yy,r[2],{align:'right'}));});
  els.push(...tag('left',gl,py0(TOT4[n]),TOT4[n].toFixed(2),COL.black,'#fff'));
  els.push(...tag('right',W-gr,py1(MOM4[n]),MOM4[n].toFixed(2),COL.barG,'#222'));
  els.push(...footer(220,[[3,'ETSLTOTL Index (US NAR Total Existing Homes Sales SAAR) Existing Homes sales  Monthly 16MAY2014-22MAY2024  Copyright© 2024 Bloomberg Finance L.P.  22-May-2024 11:30:01']]));
  ch.setOption({graphic:{elements:els}});
})();
</script></body></html>
